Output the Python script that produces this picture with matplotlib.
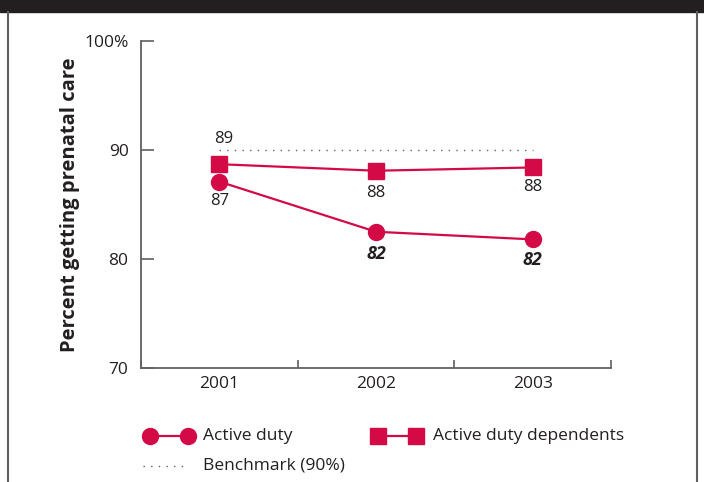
import numpy as np
import matplotlib.pyplot as plt
from matplotlib.lines import Line2D
from matplotlib.patches import Rectangle

plt.rcParams['font.family'] = ['Open Sans', 'DejaVu Sans']

# data
years = ["2001", "2002", "2003"]
active = [87.1, 82.5, 81.8]
dependents = [88.7, 88.1, 88.4]
active_labels = ["87", "82", "82"]
dependent_labels = ["89", "88", "88"]
active_emph = [False, True, True]
benchmark = 90

red = "#d40a47"
ink = "#231f20"
axis_grey = "#606060"

fig = plt.figure(figsize=(7.04, 4.82), dpi=100)
ax = fig.add_axes([0.2003, 0.2365, 0.6677, 0.6784])

x = np.arange(len(years)) + 0.5

ax.hlines(benchmark, x[0], x[-1], colors=axis_grey, linestyles=(0, (1, 4.5)), linewidth=1.0, zorder=1)
ax.plot(x, dependents, color=red, linewidth=1.6, marker="s", markersize=11.5, zorder=3)
ax.plot(x, active, color=red, linewidth=1.6, marker="o", markersize=11.5, zorder=3)

# value labels
dep_offsets = [(3, 18), (0, -16), (0, -14)]
act_offsets = [(0, -14), (0, -16), (0, -15)]
for xi, v, lab, off in zip(x, dependents, dependent_labels, dep_offsets):
    ax.annotate(lab, (xi, v), xytext=off, textcoords="offset points",
                ha="center", va="center", fontsize=12, color=ink)
for xi, v, lab, off, emph in zip(x, active, active_labels, act_offsets, active_emph):
    ax.annotate(lab, (xi, v), xytext=off, textcoords="offset points",
                ha="center", va="center", fontsize=13 if emph else 12, color=ink,
                fontweight="bold" if emph else "normal",
                fontstyle="italic" if emph else "normal")

ax.set_xlim(0, len(years))
ax.set_ylim(70, 100)
ax.set_yticks([70, 80, 90, 100])
ax.set_yticklabels(["70", "80", "90", "100%"])
ax.set_xticks(np.arange(len(years) + 1), minor=False)
ax.set_xticklabels([])
ax.set_xticks(x, minor=True)
ax.set_xticklabels(years, minor=True)
ax.tick_params(axis="x", which="major", direction="in", length=6, width=1.2, color=axis_grey)
ax.tick_params(axis="x", which="minor", length=0, pad=6, labelsize=12.5, labelcolor=ink)
ax.tick_params(axis="y", direction="in", length=9, width=1.2, color=axis_grey,
               pad=9, labelsize=12.5, labelcolor=ink)

for side in ["top", "right"]:
    ax.spines[side].set_visible(False)
for side in ["left", "bottom"]:
    ax.spines[side].set_color(axis_grey)
    ax.spines[side].set_linewidth(1.3)

fig.text(0.099, 0.575, "Percent getting prenatal care", rotation=90, ha="center", va="center",
         fontsize=14.5, fontweight="bold", color=ink)

# frame: dark top band and side rules
fig.patches.append(Rectangle((0, 0.976), 1, 0.024, transform=fig.transFigure, color=ink, zorder=0))
fig.add_artist(Line2D([8 / 704, 8 / 704], [0, 0.976], transform=fig.transFigure, color=axis_grey, linewidth=1.5))
fig.add_artist(Line2D([697 / 704, 697 / 704], [0, 0.976], transform=fig.transFigure, color=axis_grey, linewidth=1.5))

# legend drawn by hand
ly1 = 1 - 436 / 482
ly2 = 1 - 466 / 482
fig.add_artist(Line2D([150 / 704, 188 / 704], [ly1, ly1], transform=fig.transFigure, color=red,
                      linewidth=1.6, marker="o", markersize=11.5))
fig.text(203 / 704, ly1, "Active duty", ha="left", va="center", fontsize=12.5, color=ink)
fig.add_artist(Line2D([378 / 704, 416 / 704], [ly1, ly1], transform=fig.transFigure, color=red,
                      linewidth=1.6, marker="s", markersize=11.5))
fig.text(433 / 704, ly1, "Active duty dependents", ha="left", va="center", fontsize=12.5, color=ink)
fig.add_artist(Line2D([143 / 704, 186 / 704], [ly2, ly2], transform=fig.transFigure, color=axis_grey,
                      linewidth=1.0, linestyle=(0, (1, 4.5))))
fig.text(203 / 704, ly2, "Benchmark (90%)", ha="left", va="center", fontsize=12.5, color=ink)

fig.savefig("out.png", dpi=100)
